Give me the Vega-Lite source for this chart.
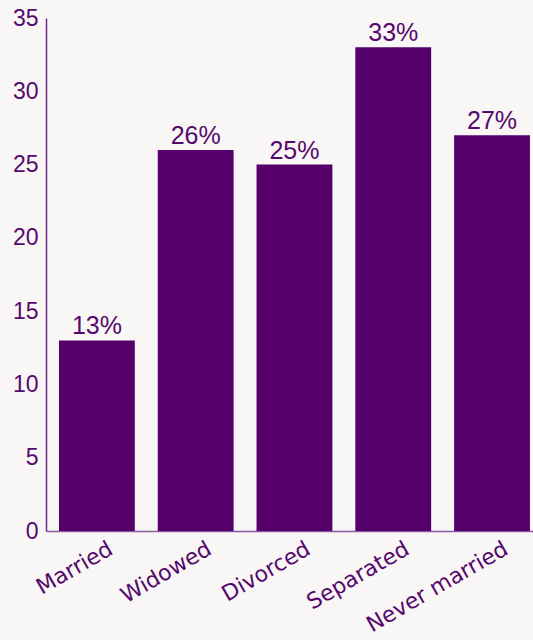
{
  "$schema": "https://vega.github.io/schema/vega-lite/v6.json",
  "width": 487,
  "height": 513,
  "autosize": {"type": "none"},
  "padding": {"left": 46, "top": 18, "right": 0, "bottom": 109},
  "background": "#f9f7f5",
  "config": {"view": {"stroke": null}},
  "data": {
    "values": [
      {"status": "Married", "pct": 13, "label": "13%"},
      {"status": "Widowed", "pct": 26, "label": "26%"},
      {"status": "Divorced", "pct": 25, "label": "25%"},
      {"status": "Separated", "pct": 33, "label": "33%"},
      {"status": "Never married", "pct": 27, "label": "27%"}
    ]
  },
  "encoding": {
    "x": {
      "field": "status",
      "type": "nominal",
      "sort": null,
      "scale": {"paddingInner": 0.232, "paddingOuter": 0.081, "align": 0.81},
      "axis": {
        "title": null,
        "labelAngle": -30,
        "labelFont": "DejaVu Sans",
        "labelFontSize": 22,
        "labelColor": "#55086e",
        "labelOffset": 9,
        "labelPadding": 7,
        "ticks": false,
        "domainColor": "#8a5aa0",
        "domainWidth": 1.5
      }
    },
    "y": {
      "field": "pct",
      "type": "quantitative",
      "scale": {"domain": [0, 35], "nice": false},
      "axis": {
        "title": null,
        "values": [0, 5, 10, 15, 20, 25, 30, 35],
        "grid": false,
        "ticks": false,
        "labelFont": "Liberation Sans",
        "labelFontSize": 23,
        "labelColor": "#55086e",
        "labelPadding": 8,
        "domainColor": "#6a2a88",
        "domainWidth": 1.5
      }
    }
  },
  "layer": [
    {"mark": {"type": "bar", "color": "#55006b"}},
    {
      "mark": {
        "type": "text",
        "baseline": "alphabetic",
        "dy": -6,
        "font": "Liberation Sans",
        "fontSize": 25,
        "color": "#55086e"
      },
      "encoding": {"text": {"field": "label"}}
    }
  ]
}
